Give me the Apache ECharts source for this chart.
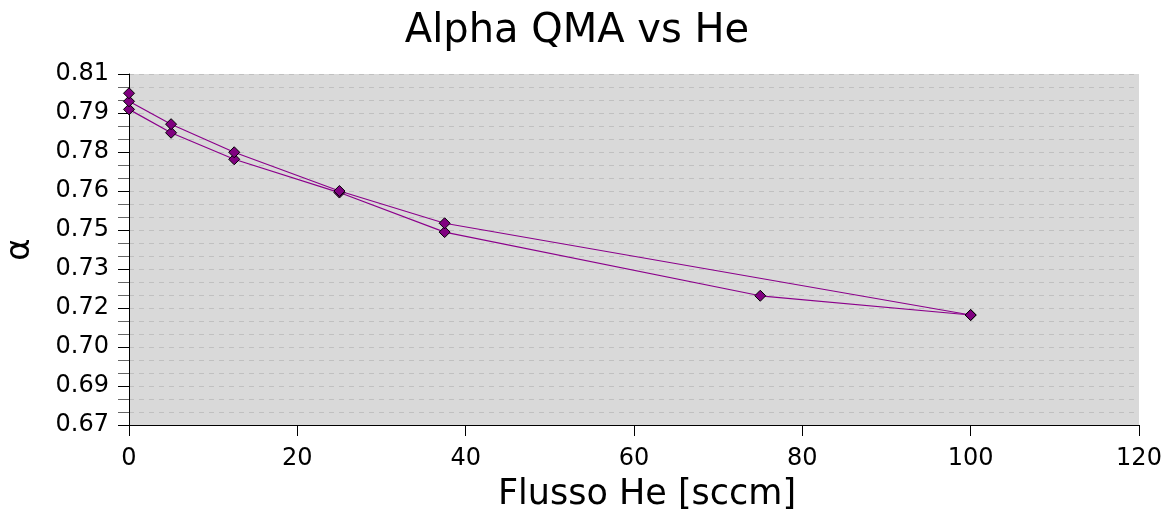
<!DOCTYPE html>
<html>
<head>
<meta charset="utf-8">
<script src="https://cdn.jsdelivr.net/npm/echarts@6/dist/echarts.min.js"></script>
<style>html,body{margin:0;padding:0;background:#fff;}#c{width:1168px;height:511px;}</style>
</head>
<body>
<div id="c"></div>
<script>
// Data: flow ramp up then down
const xUp = [0, 5, 12.5, 25, 37.5, 75, 100];
const yUp = [0.7914, 0.7824, 0.7722, 0.7594, 0.7442, 0.7197, 0.7123];
const xDown = [100, 37.5, 25, 12.5, 5, 0, 0];
const yDown = [0.7123, 0.7476, 0.7600, 0.7749, 0.7857, 0.7945, 0.7976];

const yMin = 0.67, yMax = 0.805, yStep = 0.015;
const yTickLabels = ['0.67','0.69','0.70','0.72','0.73','0.75','0.76','0.78','0.79','0.81'];
const xTickLabels = ['0','20','40','60','80','100','120'];

const FONT = 'DejaVu Sans';
const lineColor = '#8b008b';

function pairs(xs, ys){ return xs.map((x,i)=>[x, ys[i]]); }

const chart = echarts.init(document.getElementById('c'), null, {renderer:'canvas'});
chart.setOption({
  animation: false,
  backgroundColor: '#ffffff',
  title: {
    text: 'Alpha QMA vs He',
    left: 572, top: 7, textAlign: 'center',
    textStyle: {fontFamily: FONT, fontSize: 40, fontWeight: 'normal', color: '#000'}
  },
  grid: {left: 129, right: 29, top: 74, bottom: 86, show: true, backgroundColor: '#d9d9d9', borderWidth: 0, outerBoundsMode: 'none', containLabel: false},
  xAxis: {
    type: 'value', min: 0, max: 120, interval: 20,
    name: 'Flusso He [sccm]', nameLocation: 'middle', nameGap: 52,
    nameTextStyle: {fontFamily: FONT, fontSize: 35, color: '#000', padding: [0,0,0,26]},
    axisLine: {show: true, lineStyle: {color: '#000', width: 1}},
    axisTick: {show: true, inside: false, length: 11, lineStyle: {color: '#000'}},
    axisLabel: {margin: 22, fontFamily: FONT, fontSize: 24, color: '#000',
      formatter: v => xTickLabels[Math.round(v/20)]},
    splitLine: {show: false}
  },
  yAxis: {
    type: 'value', min: yMin, max: yMax, interval: yStep,
    name: 'α', nameLocation: 'middle', nameGap: 92, nameRotate: 90,
    nameTextStyle: {fontFamily: FONT, fontSize: 34, color: '#000'},
    axisLine: {show: true, lineStyle: {color: '#000', width: 1}},
    axisTick: {show: true, inside: false, length: 11, lineStyle: {color: '#000'}},
    minorTick: {show: true, splitNumber: 3, length: 11, lineStyle: {color: '#666'}},
    axisLabel: {margin: 20, fontFamily: FONT, fontSize: 24, color: '#000',
      formatter: v => yTickLabels[Math.round((v - yMin)/yStep)]},
    splitLine: {show: true, lineStyle: {color: '#c0c0c0', type: [5,5], width: 1}},
    minorSplitLine: {show: true, lineStyle: {color: '#c0c0c0', type: [5,5], width: 1}}
  },
  series: [
    {
      type: 'line', data: pairs(xUp, yUp),
      symbol: 'diamond', symbolSize: [11,11], showAllSymbol: true,
      lineStyle: {color: lineColor, width: 1.2},
      itemStyle: {color: '#800080', borderColor: '#000', borderWidth: 1}
    },
    {
      type: 'line', data: pairs(xDown, yDown),
      symbol: 'diamond', symbolSize: [11,11], showAllSymbol: true,
      lineStyle: {color: lineColor, width: 1.2},
      itemStyle: {color: '#800080', borderColor: '#000', borderWidth: 1}
    }
  ]
});
</script>
</body>
</html>
